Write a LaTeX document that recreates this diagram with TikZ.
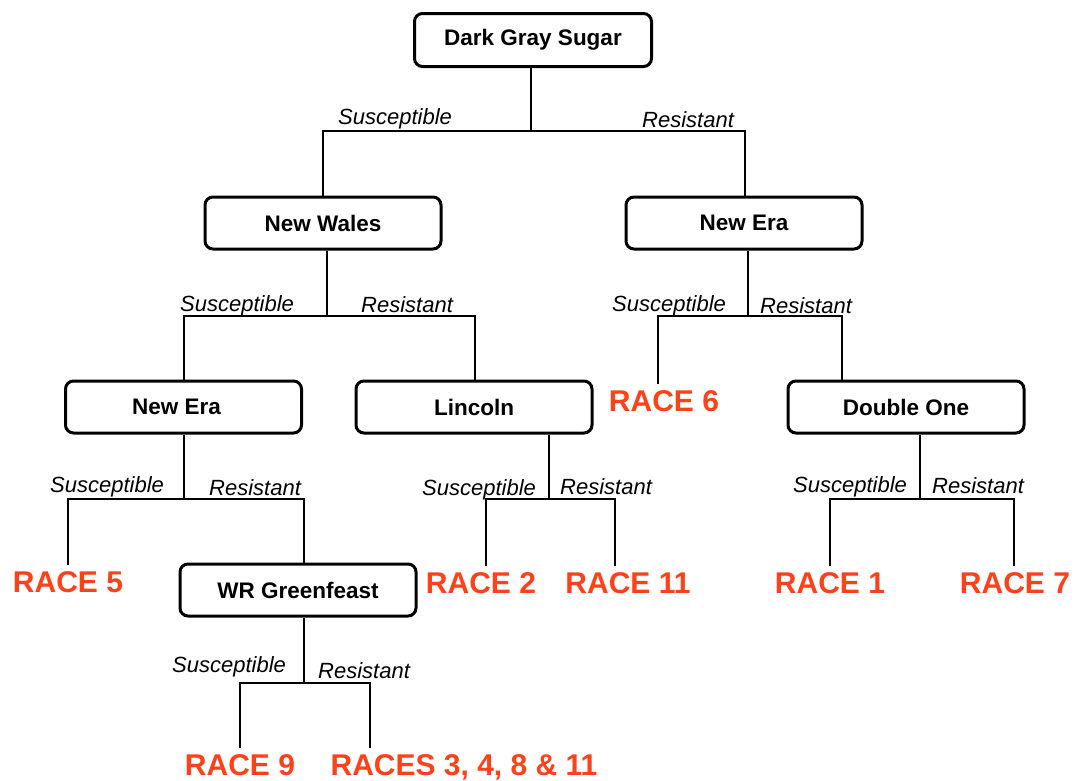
\documentclass[tikz,border=0pt]{standalone}
\usepackage{fontspec}
\setmainfont{Liberation Sans}
\definecolor{raceorange}{HTML}{FF4019}
\begin{document}
\begin{tikzpicture}[x=1pt,y=-1pt,
  cultbox/.style={draw=black,line width=3pt,rounded corners=8pt,fill=white,
    minimum width=236pt,minimum height=52pt,inner sep=0pt,
    font=\fontsize{22.5}{26}\selectfont\bfseries},
  racelbl/.style={text=raceorange,inner sep=0pt,outer ysep=6pt,anchor=base,
    font=\fontsize{30}{34}\selectfont\bfseries},
  branchlbl/.style={inner sep=0pt,anchor=base west,
    font=\fontsize{22}{26}\selectfont\itshape},
  conn/.style={draw=black,line width=1.6pt}]
\useasboundingbox (0,0) rectangle (1085,780);
% boxes
\node[cultbox,minimum width=237pt,minimum height=53pt] (dgs) at (533,40) {Dark Gray Sugar};
\node[cultbox] (nw)  at (323,223) {New Wales};
\node[cultbox] (ner) at (744,223) {New Era};
\node[cultbox] (nel) at (183.5,407) {\hspace*{-14pt}New Era};
\node[cultbox] (lin) at (474,407) {Lincoln};
\node[cultbox] (dbl) at (906,407) {Double One};
\node[cultbox] (wrg) at (298,590) {WR Greenfeast};
% results
\node[racelbl] (r6)  at (664,411) {RACE 6};
\node[racelbl] (r5)  at (68,592) {RACE 5};
\node[racelbl] (r2)  at (481,593) {RACE 2};
\node[racelbl] (r11) at (628,593) {RACE 11};
\node[racelbl] (r1)  at (830,593) {RACE 1};
\node[racelbl] (r7)  at (1015,593) {RACE 7};
\node[racelbl] (r9)  at (240,775) {RACE 9};
\node[racelbl] (rm)  at (464,775) {RACES 3, 4, 8 \& 11};
% junctions
\coordinate (T0) at (531,131); \coordinate (L0) at (323,131); \coordinate (R0) at (745,131);
\coordinate (T1) at (327,316); \coordinate (L1) at (184,316); \coordinate (R1) at (475,316);
\coordinate (T2) at (748,316); \coordinate (L2) at (658,316); \coordinate (R2) at (842,316);
\coordinate (T3) at (184,499); \coordinate (L3) at (68,499);  \coordinate (R3) at (304,499);
\coordinate (T4) at (549,499); \coordinate (L4) at (486,499); \coordinate (R4) at (615,499);
\coordinate (T5) at (920,499); \coordinate (L5) at (830,499); \coordinate (R5) at (1014,499);
\coordinate (T6) at (304,683); \coordinate (L6) at (240,683); \coordinate (R6) at (370,683);
% connectors
\draw[conn] (dgs.south -| T0) -- (T0);
\draw[conn] (nw.north -| L0) -- (L0) -- (R0) -- (ner.north -| R0);
\draw[conn] (nw.south -| T1) -- (T1);
\draw[conn] (nel.north -| L1) -- (L1) -- (R1) -- (lin.north -| R1);
\draw[conn] (ner.south -| T2) -- (T2);
\draw[conn] (r6.north -| L2) -- (L2) -- (R2) -- (dbl.north -| R2);
\draw[conn] (nel.south -| T3) -- (T3);
\draw[conn] (r5.north -| L3) -- (L3) -- (R3) -- (wrg.north -| R3);
\draw[conn] (lin.south -| T4) -- (T4);
\draw[conn] (r2.north -| L4) -- (L4) -- (R4) -- (r11.north -| R4);
\draw[conn] (dbl.south -| T5) -- (T5);
\draw[conn] (r1.north -| L5) -- (L5) -- (R5) -- (r7.north -| R5);
\draw[conn] (wrg.south -| T6) -- (T6);
\draw[conn] (r9.north -| L6) -- (L6) -- (R6) -- (rm.north -| R6);
% branch labels
\node[branchlbl] (s0) at (338,124) {Susceptible};
\node[branchlbl] (e0) at (642,127) {Resistant};
\node[branchlbl] (s1) at (180,311) {Susceptible};
\node[branchlbl] (e1) at (361,312) {Resistant};
\node[branchlbl] (s2) at (612,311) {Susceptible};
\node[branchlbl] (e2) at (760,313) {Resistant};
\node[branchlbl] (s3) at (50,492) {Susceptible};
\node[branchlbl] (e3) at (209,495) {Resistant};
\node[branchlbl] (s4) at (422,495) {Susceptible};
\node[branchlbl] (e4) at (560,494) {Resistant};
\node[branchlbl] (s5) at (793,492) {Susceptible};
\node[branchlbl] (e5) at (932,493) {Resistant};
\node[branchlbl] (s6) at (172,672) {Susceptible};
\node[branchlbl] (e6) at (318,678) {Resistant};
\end{tikzpicture}
\end{document}
